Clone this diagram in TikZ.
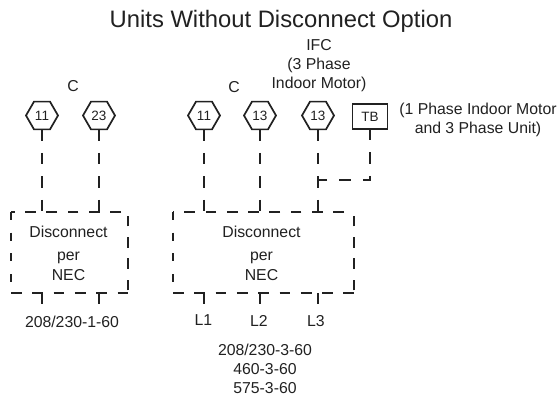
\documentclass[tikz,border=0pt]{standalone}
\usepackage{fontspec}
\setmainfont{Liberation Sans}
\usetikzlibrary{shapes.geometric}
\definecolor{ink}{gray}{0.13}
\tikzset{
  x=1pt,y=-1pt,
  lbl/.style={inner sep=0pt,outer sep=0pt,text=ink,font=\fontsize{15.8}{19}\selectfont,align=center},
  ttl/.style={inner sep=0pt,outer sep=0pt,text=ink,font=\fontsize{23.8}{27}\selectfont},
  hex/.style={regular polygon,regular polygon sides=6,shape border rotate=0,draw=ink,line width=1.7pt,minimum size=32pt,inner sep=0pt,outer sep=0pt,text=ink,font=\fontsize{13.5}{16}\selectfont},
  tbox/.style={draw=ink,line width=1.7pt,minimum width=35pt,minimum height=25pt,inner sep=0pt,outer sep=0pt,text=ink,font=\fontsize{13.5}{16}\selectfont},
  area/.style={inner sep=0pt,outer sep=0pt},
  wire/.style={draw=ink,line width=2pt,dash pattern=on 11.5pt off 12pt},
  rim/.style={draw=ink,line width=2pt,dash pattern=on 10.7pt off 10.6pt},
  rimleft/.style={draw=ink,line width=2pt,dash pattern=on 8pt off 12.7pt},
  stub/.style={draw=ink,line width=2pt},
}
\begin{document}
\begin{tikzpicture}
\useasboundingbox (0,0) rectangle (558,398);
\fill[white] (0,0) rectangle (558,398);
\node[ttl] (title) at (281,21) {Units Without Disconnect Option};
\node[lbl] (c1) at (73,86) {C};
\node[lbl] (c2) at (234,87) {C};
\node[lbl] (ifc) at (319,65.5) {IFC\\(3 Phase\\Indoor Motor)};
\node[lbl] (onep) at (478,119.5) {(1 Phase Indoor Motor\\and 3 Phase Unit)};
\node[hex] (h1) at (42,115.5) {11};
\node[hex] (h2) at (99,115.5) {23};
\node[hex] (h3) at (204,115.5) {11};
\node[hex] (h4) at (260,115.5) {13};
\node[hex] (h5) at (318,115.5) {13};
\node[tbox] (tb) at (370,116.5) {TB};
\node[area,minimum width=117pt,minimum height=81pt] (d1) at (69.5,252.5) {};
\node[area,minimum width=181pt,minimum height=81pt] (d2) at (263.5,252.5) {};
\node[lbl] (t1) at (68.5,232) {Disconnect};
\node[lbl] (t2) at (68.5,257.5) {per};
\node[lbl] (t3) at (68.5,275) {NEC};
\node[lbl] (t4) at (261.5,232) {Disconnect};
\node[lbl] (t5) at (261.5,257.5) {per};
\node[lbl] (t6) at (261.5,275) {NEC};
\node[lbl] (v1) at (72,322) {208/230-1-60};
\node[lbl] (l1) at (203.5,320) {L1};
\node[lbl] (l2) at (259,321) {L2};
\node[lbl] (l3) at (316,321) {L3};
\node[lbl] (v2) at (265,369) {208/230-3-60\\460-3-60\\575-3-60};
\coordinate (j) at (318,180);
\coordinate (e1) at (42,304);
\coordinate (e2) at (99,304);
\coordinate (e3) at (204,304);
\coordinate (e4) at (260,304);
\coordinate (e5) at (318,304);
% wires
\foreach \h in {h1,h2,h3,h4,h5}
  \draw[wire] (\h.south) -- (\h.south |- d1.north);
\draw[wire] (tb.south) -- (tb.south |- j) -- (j);
% disconnect boxes
\foreach \b/\p in {d1/14.3pt,d2/11.3pt}{
  \draw[rim] (\b.south west) -- (\b.south east);
  \draw[rim,dash phase=18.6pt] (\b.south east) -- (\b.north east);
  \draw[rim,dash phase=\p] (\b.north east) -- (\b.north west);
  \draw[rimleft] (\b.north west) -- (\b.south west);
}
\foreach \e in {e1,e2,e3,e4,e5}
  \draw[stub] (\e) -- (\e |- d1.south);
\end{tikzpicture}
\end{document}
